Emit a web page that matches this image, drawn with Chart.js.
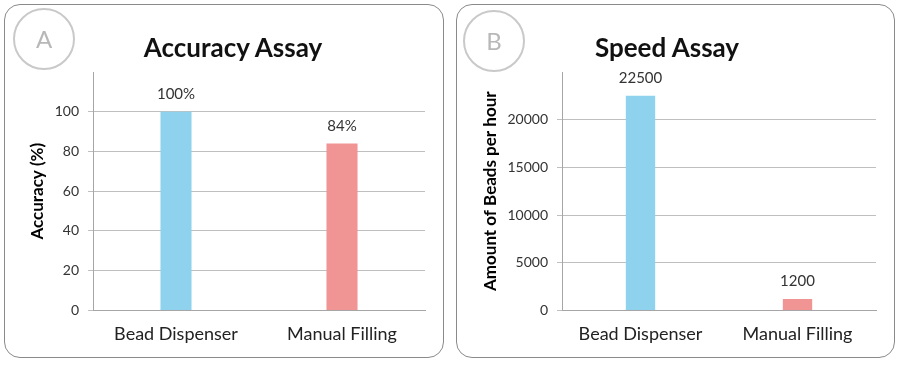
<!DOCTYPE html>
<html>
<head>
<meta charset="utf-8">
<script src="https://cdn.jsdelivr.net/npm/chart.js@4"></script>
<style>
  body { margin: 0; background: #fff; width: 898px; height: 367px; position: relative; font-family: Lato, sans-serif; }
  .panel { position: absolute; border: 1.5px solid #8a8a8a; border-radius: 16px; box-sizing: border-box; background: #fff; }
  .panel canvas { position: absolute; left: 0; top: 0; }
  .badge { position: absolute; width: 58px; height: 58px; border: 2px solid #c9c9c9; border-radius: 50%;
           color: #b8b8b8; font-size: 24px; text-align: center; line-height: 58px; box-sizing: content-box; }
  .title { position: absolute; width: 200px; text-align: center; font-weight: bold; font-size: 26px;
           line-height: 30px; color: #111; }
</style>
</head>
<body>
<div class="panel" style="left:4px;top:4px;width:440px;height:354px;">
  <canvas id="chartA" width="437" height="351"></canvas>
  <div class="badge" style="left:8px;top:3px;">A</div>
  <div class="title" style="left:128px;top:27px;">Accuracy Assay</div>
</div>
<div class="panel" style="left:456px;top:4px;width:439px;height:354px;">
  <canvas id="chartB" width="436" height="351"></canvas>
  <div class="badge" style="left:6px;top:5px;">B</div>
  <div class="title" style="left:110px;top:27px;">Speed Assay</div>
</div>
<script>
const categories = ['Bead Dispenser', 'Manual Filling'];
const accuracyValues = [100, 84];
const speedValues = [22500, 1200];
const barColors = ['#8fd2ee', '#f09494'];

// draws the value above each bar
const valueLabels = {
  id: 'valueLabels',
  afterDatasetsDraw(chart, args, opts) {
    const ctx = chart.ctx;
    const meta = chart.getDatasetMeta(0);
    ctx.save();
    ctx.font = '15px Lato';
    ctx.fillStyle = '#333';
    ctx.textAlign = 'center';
    ctx.textBaseline = 'bottom';
    meta.data.forEach((bar, i) => {
      const v = chart.data.datasets[0].data[i];
      ctx.fillText(v + (opts.suffix || ''), bar.x, bar.y - 10);
    });
    ctx.restore();
  }
};

function makeChart(id, values, opts) {
  return new Chart(document.getElementById(id), {
    type: 'bar',
    data: {
      labels: categories,
      datasets: [{ data: values, backgroundColor: barColors, barPercentage: 0.187, categoryPercentage: 1 }]
    },
    plugins: [valueLabels],
    options: {
      responsive: false,
      animation: false,
      events: [],
      layout: { padding: opts.padding },
      plugins: {
        legend: { display: false },
        tooltip: { enabled: false },
        valueLabels: { suffix: opts.suffix }
      },
      scales: {
        x: {
          grid: { display: false, drawTicks: false },
          border: { color: '#a6a6a6' },
          ticks: { color: '#222', font: { family: 'Lato', size: 18 }, padding: 13 }
        },
        y: {
          min: 0,
          max: opts.max,
          afterFit: s => { s.width = opts.axisWidth; },
          ticks: {
            stepSize: opts.step,
            color: '#333',
            font: { family: 'Lato', size: 14 },
            padding: 9,
            callback: v => v >= opts.max ? '' : v
          },
          grid: {
            tickLength: 5,
            color: c => c.tick && c.tick.value >= opts.max ? 'rgba(0,0,0,0)' : '#bfbfbf'
          },
          border: { color: '#a6a6a6' },
          title: {
            display: true,
            text: opts.yTitle,
            color: '#000',
            font: { family: 'Lato', size: 17, weight: 'bold' },
            padding: 0
          }
        }
      }
    }
  });
}

makeChart('chartA', accuracyValues, {
  yTitle: 'Accuracy (%)', max: 120, step: 20, suffix: '%',
  axisWidth: 66, padding: { left: 22, right: 17, top: 67, bottom: -2 }
});
makeChart('chartB', speedValues, {
  yTitle: 'Amount of Beads per hour', max: 25000, step: 5000, suffix: '',
  axisWidth: 82, padding: { left: 23, right: 17, top: 67, bottom: -2 }
});
</script>
</body>
</html>
